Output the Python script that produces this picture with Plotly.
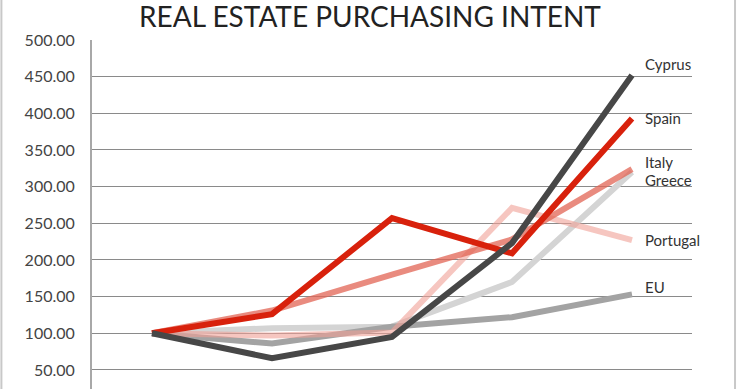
import plotly.graph_objects as go

periods = ["P1", "P2", "P3", "P4", "P5"]
cyprus = [100, 66, 95, 223, 452]
spain = [100, 126, 257, 209, 393]
italy = [100, 131, 180, 228, 324]
portugal = [100, 97, 101, 271, 227]
greece = [100, 107, 109, 170, 320]
eu = [100, 86, 109, 122, 153]
y_ticks = [50, 100, 150, 200, 250, 300, 350, 400, 450, 500]

series = [
    ("Greece", greece, "#d4d4d4", -8),
    ("EU", eu, "#a3a3a3", 7),
    ("Portugal", portugal, "rgba(240,160,150,0.6)", 0),
    ("Italy", italy, "rgba(226,100,84,0.75)", 7),
    ("Spain", spain, "#d8210c", 0),
    ("Cyprus", cyprus, "#474747", 11),
]

fig = go.Figure()
for name, vals, color, dy in series:
    fig.add_trace(go.Scatter(x=periods, y=vals, mode="lines", name=name,
                             line=dict(color=color, width=6)))
    fig.add_annotation(x=periods[-1], y=vals[-1], text=name, showarrow=False,
                       xanchor="left", yanchor="middle", xshift=11, yshift=dy,
                       font=dict(family="Lato", size=15, color="#333333"))

fig.update_layout(
    width=740, height=389,
    margin=dict(l=92, r=48, t=40, b=0),
    paper_bgcolor="white", plot_bgcolor="white",
    showlegend=False,
    title=dict(text="REAL ESTATE PURCHASING INTENT", x=0.5, xanchor="center",
               y=0.955, yanchor="middle",
               font=dict(family="Lato", size=28, color="#222222")),
    xaxis=dict(showticklabels=False, showgrid=False, zeroline=False,
               showline=False, range=[-0.5, 4.5]),
    yaxis=dict(range=[24, 500], tickvals=y_ticks,
               ticktext=[f"{v:.2f}" for v in y_ticks],
               showgrid=True, gridcolor="#8a8a8a", gridwidth=1,
               zeroline=False, showline=True, linecolor="#a8a8a8", linewidth=2,
               ticks="", ticklabelstandoff=12,
               tickfont=dict(family="Lato", size=16, color="#444444")),
)
fig.add_shape(type="line", xref="paper", yref="paper", x0=1.0717, x1=1.0717, y0=-0.05, y1=1.2,
              line=dict(color="#c8c8c8", width=2))
fig.add_shape(type="line", xref="paper", yref="paper", x0=-0.151, x1=-0.151, y0=-0.05, y1=1.2,
              line=dict(color="#c8c8c8", width=2))
fig.write_html("out.html", config={"displayModeBar": False},
               post_script="document.body.style.margin='0';")
